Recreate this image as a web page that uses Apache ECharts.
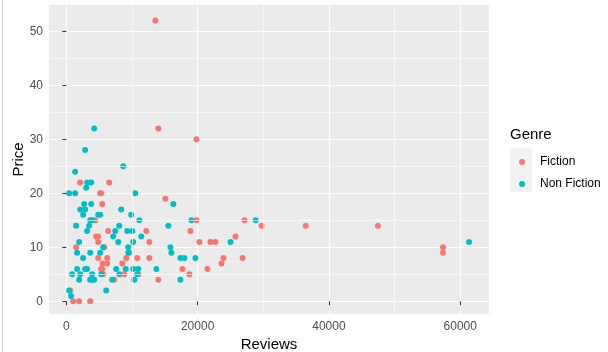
<!DOCTYPE html>
<html>
<head>
<meta charset="utf-8">
<script src="https://cdn.jsdelivr.net/npm/echarts@6/dist/echarts.min.js"></script>
<style>
  html, body { margin: 0; padding: 0; background: #fff; }
  #chart { width: 608px; height: 352px; }
</style>
</head>
<body>
<div id="chart"></div>
<script>
// values
const fictionReviews = [13560, 14015, 19815, 2110, 6535, 5160, 5315, 15085, 5465, 4400, 19815, 27145,
  29740, 36460, 47450, 6380, 12180, 18900, 4550, 4855, 25770, 4855, 12640, 20275, 21950, 22720,
  1500, 5770, 57370, 9590, 57370, 4855, 6230, 9130, 10810, 12640, 23940, 26840, 5550, 6230, 8520,
  23630, 5310, 5465, 17680, 21500, 5620, 8825, 10960, 18750, 7300, 14015, 580, 1040, 1955, 3635]
const fictionPrices = [52, 32, 30, 22, 22, 20, 20, 19, 18, 15, 15, 15,
  14, 14, 14, 13, 13, 13, 12, 12, 12, 11, 11, 11, 11, 11,
  10, 10, 10, 9, 9, 8, 8, 8, 8, 8, 8, 8, 7, 7, 7,
  7, 6, 6, 6, 6, 5, 5, 5, 5, 4, 4, 2, 0, 0, 0]

const nonFictionReviews = [4245, 2870, 8670, 1345, 3175, 3790, 3025, 430, 1345, 10500, 2720, 3790, 16305,
  2110, 2870, 8365, 2565, 4855, 5160, 9890, 3635, 3940, 11115, 19050, 28825, 1500, 3480, 8060, 15540,
  3175, 7450, 9280, 10045, 7145, 11420, 1955, 7910, 10200, 25010, 61340, 5620, 9435, 15850,
  1650, 3635, 5160, 9435, 16000, 2565, 17375, 17985, 19660,
  1650, 2870, 3175, 7600, 9050, 10200, 10960, 13710, 885, 2110, 3940, 5315, 8060, 10810,
  1955, 3635, 3940, 4245, 6990, 10350, 17375, 430, 6075, 735]
const nonFictionPrices = [32, 28, 25, 24, 22, 22, 21, 20, 20, 20, 18, 18, 18,
  17, 17, 17, 16, 16, 16, 16, 15, 15, 15, 15, 15, 14, 14, 14, 14,
  13, 13, 13, 13, 12, 12, 11, 11, 11, 11, 11, 10, 10, 10,
  9, 9, 9, 9, 9, 8, 8, 8, 8,
  6, 6, 6, 6, 6, 6, 6, 6, 5, 5, 5, 5, 5, 5,
  4, 4, 4, 4, 4, 4, 4, 2, 2, 1]

const genres = ['Fiction', 'Non Fiction']
const xTicks = [0, 20000, 40000, 60000]
const yTicks = [0, 10, 20, 30, 40, 50]
const xMinor = [10000, 30000, 50000]
const yMinor = [5, 15, 25, 35, 45]

const zip = (xs, ys) => xs.map((x, i) => [x, ys[i]])

const chart = echarts.init(document.getElementById('chart'), null, { renderer: 'canvas' })

const font = 'Liberation Sans, Arial, sans-serif'

const legendItem = (name, top) => ({
  data: [name],
  left: 519,
  top: top,
  orient: 'vertical',
  icon: 'circle',
  itemWidth: 22,
  itemHeight: 6,
  padding: 0,
  selectedMode: false,
  textStyle: { fontSize: 12, color: '#000', fontFamily: font, padding: [0, 0, 0, 2] }
})

const option = {
  animation: false,
  backgroundColor: '#fff',
  grid: {
    left: 49, right: 119, top: 5, bottom: 38,
    containLabel: false,
    outerBoundsMode: 'none',
    show: true, backgroundColor: '#EBEBEB', borderWidth: 0
  },
  xAxis: {
    type: 'value',
    min: -2635,
    max: 64375,
    axisLine: { show: false },
    axisTick: { show: true, length: 4, customValues: xTicks, lineStyle: { color: '#333', width: 1 } },
    axisLabel: {
      customValues: xTicks, color: '#4D4D4D', fontSize: 12, margin: 7, fontFamily: font,
      formatter: v => String(v)
    },
    splitLine: { show: true, lineStyle: { color: '#fff', width: 1.1 } },
    name: 'Reviews',
    nameLocation: 'middle',
    nameGap: 23,
    nameMoveOverlap: false,
    nameTextStyle: { fontSize: 15, color: '#000', fontFamily: font }
  },
  yAxis: {
    type: 'value',
    min: -2.35,
    max: 54.85,
    axisLine: { show: false },
    axisTick: { show: true, length: 4, customValues: yTicks, lineStyle: { color: '#333', width: 1 } },
    axisLabel: {
      customValues: yTicks, color: '#4D4D4D', fontSize: 12, margin: 6, fontFamily: font,
      formatter: v => String(v)
    },
    splitLine: { show: true, lineStyle: { color: '#fff', width: 1.1 } },
    name: 'Price',
    nameLocation: 'middle',
    nameGap: 23,
    nameMoveOverlap: false,
    nameTextStyle: { fontSize: 15, color: '#000', fontFamily: font }
  },
  legend: [legendItem(genres[0], 156), legendItem(genres[1], 178)],
  graphic: [
    // faint frame line at the very left of the screenshot
    { type: 'line', shape: { x1: 2.5, y1: 0, x2: 2.5, y2: 352 }, style: { stroke: '#D6D6D6', lineWidth: 1 }, silent: true },
    // legend key backgrounds
    { type: 'rect', shape: { x: 510, y: 148, width: 22, height: 44 }, style: { fill: '#F2F2F2' }, silent: true, z: -1 },
    { type: 'text', left: 510, top: 127, style: { text: 'Genre', fontSize: 15, fill: '#000', fontFamily: font }, silent: true }
  ],
  series: [
    {
      // minor grid lines
      type: 'line',
      data: [],
      z: 1,
      silent: true,
      markLine: {
        silent: true,
        symbol: ['none', 'none'],
        label: { show: false },
        lineStyle: { color: '#fff', width: 0.6, type: 'solid' },
        emphasis: { disabled: true },
        data: xMinor.map(v => ({ xAxis: v })).concat(yMinor.map(v => ({ yAxis: v })))
      }
    },
    {
      name: genres[0],
      type: 'scatter',
      z: 3,
      symbolSize: 6,
      itemStyle: { color: '#F8766D', opacity: 1 },
      data: zip(fictionReviews, fictionPrices)
    },
    {
      name: genres[1],
      type: 'scatter',
      z: 3,
      symbolSize: 6,
      itemStyle: { color: '#00BFC4', opacity: 1 },
      data: zip(nonFictionReviews, nonFictionPrices)
    }
  ]
}

chart.setOption(option)
</script>
</body>
</html>
